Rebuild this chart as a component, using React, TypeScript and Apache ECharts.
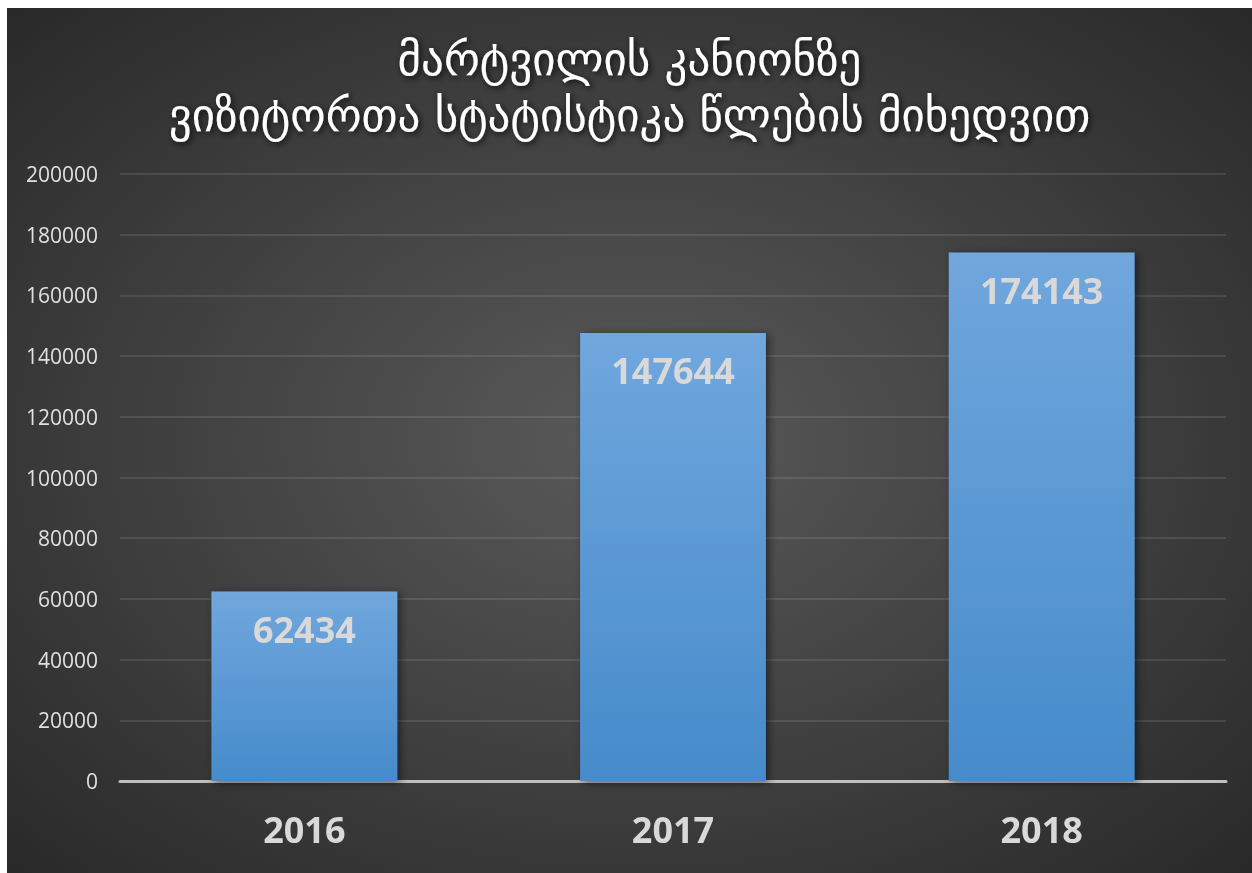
import React, { useEffect, useRef } from "react";
import * as echarts from "echarts";

const titleLines = ["მარტვილის კანიონზე", "ვიზიტორთა სტატისტიკა წლების მიხედვით"];
const years = ["2016", "2017", "2018"];
const visitors = [62434, 147644, 174143];
const yMin = 0;
const yMax = 200000;
const yStep = 20000;

export default function App() {
  const ref = useRef<HTMLDivElement>(null);
  useEffect(() => {
    if (!ref.current) return;
    const chart = echarts.init(ref.current, undefined, { renderer: "svg" });
    chart.setOption({
      animation: false,
      backgroundColor: {
        type: "radial",
        x: 0.5,
        y: 0.5,
        r: 0.75,
        colorStops: [
          { offset: 0, color: "#5a5a5a" },
          { offset: 1, color: "#262626" },
        ],
      },
      title: {
        text: titleLines.join("\n"),
        left: "center",
        top: 18,
        textStyle: {
          color: "#ffffff",
          fontFamily: "DejaVu Sans",
          fontWeight: "normal",
          fontSize: 45,
          lineHeight: 56,
          textShadowColor: "rgba(0,0,0,0.8)",
          textShadowBlur: 6,
          textShadowOffsetX: 2,
          textShadowOffsetY: 2,
        },
      },
      grid: { left: 113, right: 26, top: 166, bottom: 92, containLabel: false },
      xAxis: {
        type: "category",
        data: years,
        axisTick: { show: false },
        axisLine: { lineStyle: { color: "#bfbfbf", width: 3 } },
        axisLabel: {
          color: "#d9d9d9",
          fontFamily: "Open Sans",
          fontWeight: "bold",
          fontSize: 36,
          margin: 30,
        },
      },
      yAxis: {
        type: "value",
        min: yMin,
        max: yMax,
        interval: yStep,
        axisLine: { show: false },
        axisTick: { show: false },
        splitLine: { lineStyle: { color: "rgba(255,255,255,0.1)", width: 2 } },
        axisLabel: {
          color: "#e0e0e0",
          fontFamily: "Open Sans",
          fontSize: 21,
          margin: 22,
          formatter: (v: number) => String(v),
        },
      },
      series: [
        {
          type: "bar",
          data: visitors,
          barWidth: "50.4%",
          itemStyle: {
            color: {
              type: "linear",
              x: 0,
              y: 0,
              x2: 0,
              y2: 1,
              colorStops: [
                { offset: 0, color: "#70a7dd" },
                { offset: 1, color: "#468bcb" },
              ],
            },
            shadowColor: "rgba(0,0,0,0.5)",
            shadowBlur: 8,
            shadowOffsetX: 3,
            shadowOffsetY: 2,
          },
          label: {
            show: true,
            position: "insideTop",
            distance: 20,
            color: "#d9d9d9",
            fontFamily: "Open Sans",
            fontWeight: "bold",
            fontSize: 36,
          },
        },
      ],
    });
    return () => chart.dispose();
  }, []);
  return (
    <div
      ref={ref}
      style={{ position: "fixed", left: 7, top: 8, width: 1245, height: 865 }}
    />
  );
}
